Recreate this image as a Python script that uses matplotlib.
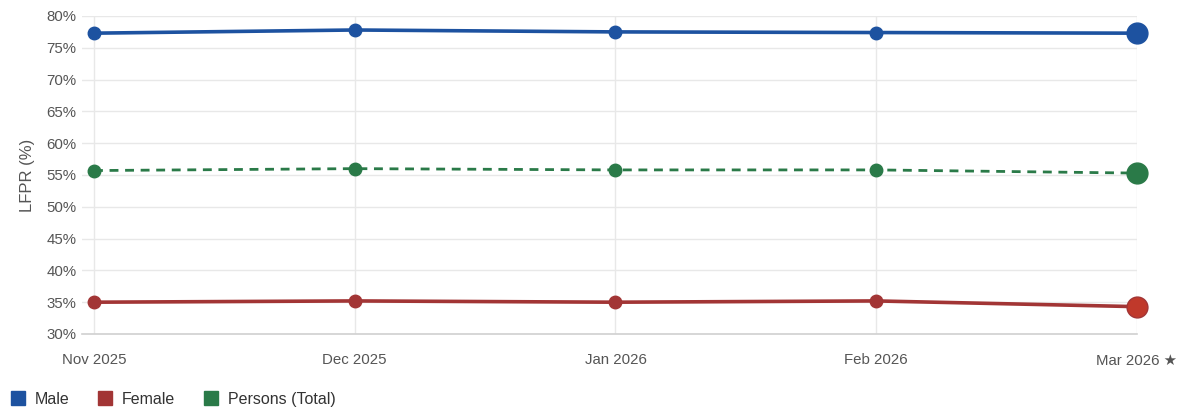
import matplotlib
matplotlib.use("Agg")
import matplotlib.pyplot as plt
from matplotlib.lines import Line2D

plt.rcParams['font.family'] = ['Liberation Sans', 'DejaVu Sans']

months = ["Nov 2025", "Dec 2025", "Jan 2026", "Feb 2026", "Mar 2026 \u2605"]
male = [77.3, 77.8, 77.5, 77.4, 77.3]
female = [35.0, 35.2, 35.0, 35.2, 34.3]
persons = [55.7, 56.0, 55.8, 55.8, 55.3]
y_ticks = [30, 35, 40, 45, 50, 55, 60, 65, 70, 75, 80]

series = [
    ("Male", male, "#1d52a0", "#1d52a0", "-", 2.6),
    ("Female", female, "#a23535", "#c0392b", "-", 2.6),
    ("Persons (Total)", persons, "#2a7a48", "#2a7a48", (0, (3.2, 2.4)), 2.0),
]

W, H = 1182, 412
fig = plt.figure(figsize=(W / 100, H / 100), dpi=100)
left, right, top, bottom = 82, 1137, 16, 334
ax = fig.add_axes([left / W, 1 - bottom / H, (right - left) / W, (bottom - top) / H])

x = list(range(len(months)))
for name, vals, col, last_col, ls, lw in series:
    ax.plot(x, vals, color=col, lw=lw, ls=ls, zorder=3, solid_capstyle='round', clip_on=False)
    ax.plot(x[:-1], vals[:-1], 'o', color=col, ms=9, mec=col, zorder=4, clip_on=False)
    ax.plot(x[-1:], vals[-1:], 'o', color=last_col, ms=15, mec=col, mew=1.0, zorder=5, clip_on=False)

ax.set_xlim(-0.046, 4)
ax.set_ylim(30, 80)
ax.set_yticks(y_ticks)
ax.set_yticklabels([f"{t}%" for t in y_ticks])
ax.set_xticks(x)
ax.set_xticklabels(months)

ax.grid(True, color="#e8e8e8", lw=1.0, zorder=0)
for s in ["top", "right", "left"]:
    ax.spines[s].set_visible(False)
ax.spines["bottom"].set_color("#d0d0d0")
ax.spines["bottom"].set_linewidth(1.2)
ax.tick_params(axis='both', length=0, colors="#555555", labelsize=10.8)
ax.tick_params(axis='x', pad=14)
ax.tick_params(axis='y', pad=4)
ax.set_ylabel("LFPR (%)", color="#555555", fontsize=12, labelpad=8)
ax.set_axisbelow(True)

handles = [Line2D([0], [0], marker='s', ls='none', color=s[2], ms=10.5) for s in series]
fig.legend(handles, [s[0] for s in series], loc='lower left',
           bbox_to_anchor=(-0.004, -0.022), ncol=3, frameon=False,
           fontsize=11.5, labelcolor="#333333", handletextpad=0.55,
           columnspacing=1.75, handlelength=1.0)

fig.savefig("out.png", dpi=100, facecolor="white")
